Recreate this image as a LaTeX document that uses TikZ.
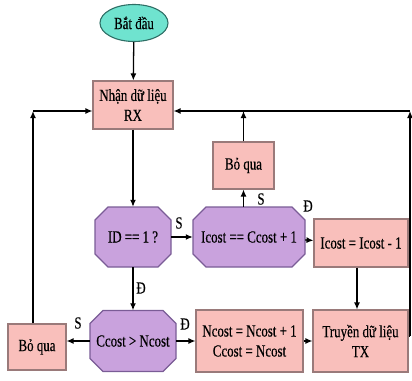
\documentclass[tikz,border=0pt]{standalone}
\usepackage{fontspec}
\setmainfont{Liberation Serif}[FakeStretch=0.76,FakeBold=0.4]
\usetikzlibrary{shapes.geometric,arrows.meta}
\definecolor{boxfill}{HTML}{F9BFBB}
\definecolor{boxline}{HTML}{9A7A7A}
\definecolor{octfill}{HTML}{C9A2DD}
\definecolor{octline}{HTML}{7A5C96}
\definecolor{ellfill}{HTML}{6FE3CF}
\definecolor{ellline}{HTML}{2F6F66}
\newcommand{\octbox}[6]{%
  \draw[octstyle] ({#2-#4/2+13},{#3-#5/2}) -- ({#2+#4/2-13},{#3-#5/2}) -- ({#2+#4/2},{#3-#5/2+13})
    -- ({#2+#4/2},{#3+#5/2-13}) -- ({#2+#4/2-13},{#3+#5/2}) -- ({#2-#4/2+13},{#3+#5/2})
    -- ({#2-#4/2},{#3+#5/2-13}) -- ({#2-#4/2},{#3-#5/2+13}) -- cycle;
  \node[txt, minimum width=#4pt, minimum height=#5pt] (#1) at (#2,#3) {#6};}
\tikzset{
  txt/.style={font=\fontsize{17}{20}\selectfont, align=center, inner sep=0pt},
  procbox/.style={txt, rectangle, draw=boxline, fill=boxfill, line width=1.1pt},
  octstyle/.style={draw=octline, fill=octfill, line width=1.1pt},
  terminal/.style={txt, ellipse, draw=ellline, fill=ellfill, line width=1.1pt},
  arr/.style={line width=1.3pt, -{Latex[length=7pt,width=6pt]}},
  ln/.style={line width=1.3pt},
  lbl/.style={font=\fontsize{17}{20}\selectfont, inner sep=0pt}
}
\begin{document}
\begin{tikzpicture}[x=1pt,y=-1pt]
\useasboundingbox (0,0) rectangle (412,380);
\node[terminal, minimum width=68pt, minimum height=37pt] (start) at (134,23) {Bắt đầu};
\node[procbox, minimum width=80pt, minimum height=48pt] (rx) at (133,105) {Nhận dữ liệu\\RX};
\node[procbox, minimum width=61pt, minimum height=47pt] (skip1) at (243.5,165.5) {Bỏ qua};
\octbox{id}{133}{237}{76}{60}{ID == 1 ?}
\octbox{ic}{249}{237}{112}{60}{Icost == Ccost + 1}
\node[procbox, minimum width=94pt, minimum height=48pt] (dec) at (361,243) {Icost = Icost - 1};
\octbox{cc}{133}{341}{86}{61}{Ccost > Ncost}
\node[procbox, minimum width=58pt, minimum height=46pt] (skip2) at (37,347) {Bỏ qua};
\node[procbox, minimum width=107pt, minimum height=62pt] (nc) at (249.5,341) {Ncost = Ncost + 1\\Ccost = Ncost};
\node[procbox, minimum width=95pt, minimum height=62pt] (tx) at (360.5,341) {Truyền dữ liệu\\TX};
\coordinate (topL) at (33,111);
\coordinate (topR) at (410,111);
% connectors
\draw[arr] (start) -- (rx);
\draw[arr] (rx) -- (id);
\draw[arr] (id) -- (ic);
\draw[arr] (skip1.south |- ic.north) -- (skip1.south);
\draw[arr] (skip1.north) -- (skip1.north |- topL);
\draw[arr] (ic) -- (dec);
\draw[arr] (dec.south -| 357,0) -- (tx.north -| 357,0);
\draw[arr] (id) -- (cc);
\draw[arr] (cc.west) -- (cc.west -| skip2.east);
\draw[arr] (cc) -- (nc);
\draw[arr] (nc) -- (tx);
\draw[arr] (skip2.north -| topL) -- (topL);
\draw[arr] (topL) -- (topL -| rx.west);
\draw[ln] ([yshift=5pt]tx.east) -- ([yshift=5pt]tx.east -| topR);
\draw[arr] ([yshift=5pt]tx.east -| topR) -- (topR);
\draw[arr] (topR) -- (topL -| rx.east);
% labels
\node[lbl] (l1) at (179,223) {S};
\node[lbl] (l2) at (261,199) {S};
\node[lbl] (l3) at (308,206) {Đ};
\node[lbl] (l4) at (141,288) {Đ};
\node[lbl] (l5) at (78,323) {S};
\node[lbl] (l6) at (185,324) {Đ};
\end{tikzpicture}
\end{document}
